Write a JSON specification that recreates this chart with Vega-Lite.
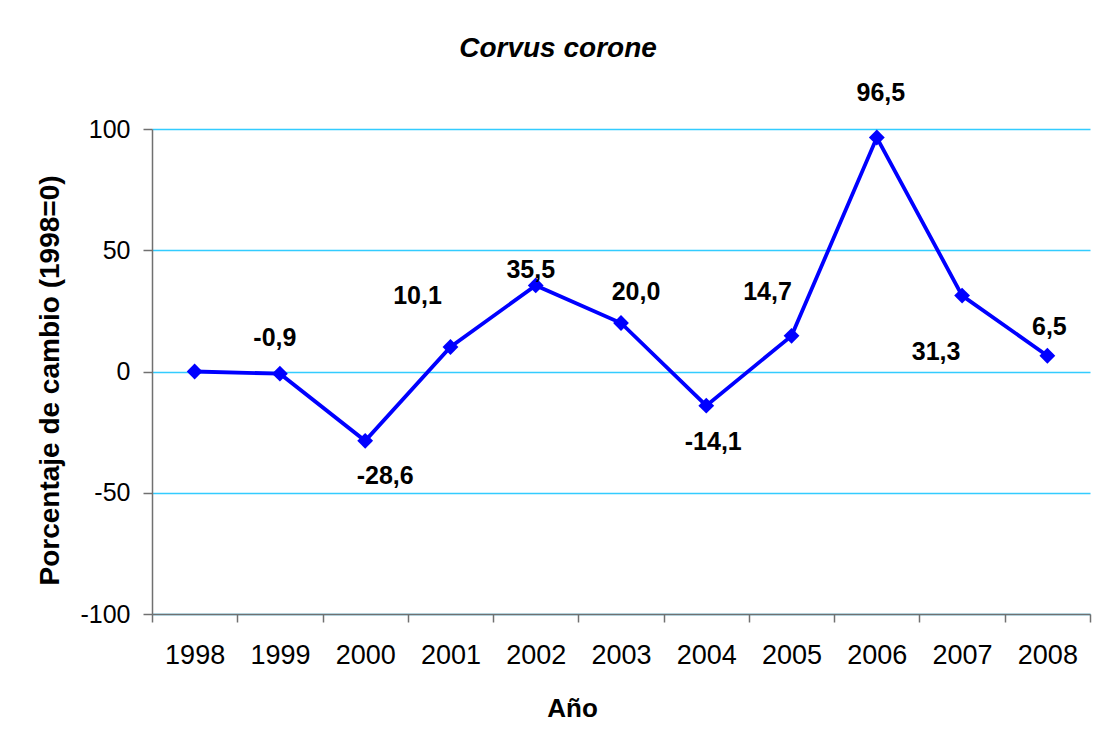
{
  "$schema": "https://vega.github.io/schema/vega-lite/v6.json",
  "width": 938,
  "height": 485,
  "autosize": "none",
  "padding": {"left": 152, "top": 129, "right": 14, "bottom": 130},
  "background": "white",
  "config": {
    "view": {"stroke": null},
    "font": "Liberation Sans",
    "locale": {"number": {"decimal": ",", "thousands": ".", "grouping": [3], "currency": ["", " €"], "minus": "-"}}
  },
  "title": {
    "text": "Corvus corone",
    "font": "Liberation Sans",
    "fontSize": 28,
    "fontWeight": "bold",
    "fontStyle": "italic",
    "color": "black",
    "anchor": "middle",
    "dx": -63,
    "offset": -4,
    "baseline": "alphabetic"
  },
  "data": {
    "values": [
      {"year": "1998", "change": 0.0},
      {"year": "1999", "change": -0.9},
      {"year": "2000", "change": -28.6},
      {"year": "2001", "change": 10.1},
      {"year": "2002", "change": 35.5},
      {"year": "2003", "change": 20.0},
      {"year": "2004", "change": -14.1},
      {"year": "2005", "change": 14.7},
      {"year": "2006", "change": 96.5},
      {"year": "2007", "change": 31.3},
      {"year": "2008", "change": 6.5}
    ]
  },
  "encoding": {
    "x": {
      "field": "year",
      "type": "ordinal",
      "scale": {"type": "band", "paddingInner": 0, "paddingOuter": 0},
      "axis": {
        "title": "Año",
        "labelAngle": 0,
        "labelFontSize": 27,
        "labelColor": "black",
        "labelPadding": 20,
        "tickBand": "extent",
        "tickSize": 8,
        "tickColor": "#707070",
        "tickWidth": 1.5,
        "domainColor": "#707070",
        "domainWidth": 1.5,
        "grid": false,
        "titleFontSize": 26,
        "titleFontWeight": "bold",
        "titleColor": "black",
        "titleX": 420,
        "titleY": 102,
        "titleBaseline": "alphabetic"
      }
    },
    "y": {
      "field": "change",
      "type": "quantitative",
      "scale": {"domain": [-100, 100], "nice": false},
      "axis": {
        "title": "Porcentaje de cambio (1998=0)",
        "values": [-100, -50, 0, 50, 100],
        "tickSize": 9,
        "tickColor": "#707070",
        "tickWidth": 1.5,
        "domainColor": "#707070",
        "domainWidth": 1.5,
        "labelPadding": 13,
        "labelFontSize": 25,
        "labelColor": "black",
        "grid": true,
        "gridColor": "#33CCFF",
        "gridWidth": 1.3,
        "titleFontSize": 28,
        "titleFontWeight": "bold",
        "titleColor": "black",
        "titlePadding": 15,
        "titleY": 251
      }
    }
  },
  "layer": [
    {"mark": {"type": "line", "color": "#0000FF", "strokeWidth": 3.8}},
    {"mark": {"type": "point", "shape": "diamond", "filled": true, "size": 250, "color": "#0000FF", "opacity": 1}},
    {
      "transform": [{"filter": "datum.year == '1999'"}],
      "mark": {"type": "text", "fontSize": 25, "fontWeight": "bold", "color": "black", "align": "center", "baseline": "middle", "dx": -5, "dy": -36},
      "encoding": {"text": {"field": "change", "type": "quantitative", "format": ".1f"}}
    },
    {
      "transform": [{"filter": "datum.year == '2000'"}],
      "mark": {"type": "text", "fontSize": 25, "fontWeight": "bold", "color": "black", "align": "center", "baseline": "middle", "dx": 20, "dy": 35},
      "encoding": {"text": {"field": "change", "type": "quantitative", "format": ".1f"}}
    },
    {
      "transform": [{"filter": "datum.year == '2001'"}],
      "mark": {"type": "text", "fontSize": 25, "fontWeight": "bold", "color": "black", "align": "center", "baseline": "middle", "dx": -33, "dy": -51},
      "encoding": {"text": {"field": "change", "type": "quantitative", "format": ".1f"}}
    },
    {
      "transform": [{"filter": "datum.year == '2002'"}],
      "mark": {"type": "text", "fontSize": 25, "fontWeight": "bold", "color": "black", "align": "center", "baseline": "middle", "dx": -5, "dy": -15},
      "encoding": {"text": {"field": "change", "type": "quantitative", "format": ".1f"}}
    },
    {
      "transform": [{"filter": "datum.year == '2003'"}],
      "mark": {"type": "text", "fontSize": 25, "fontWeight": "bold", "color": "black", "align": "center", "baseline": "middle", "dx": 15, "dy": -31},
      "encoding": {"text": {"field": "change", "type": "quantitative", "format": ".1f"}}
    },
    {
      "transform": [{"filter": "datum.year == '2004'"}],
      "mark": {"type": "text", "fontSize": 25, "fontWeight": "bold", "color": "black", "align": "center", "baseline": "middle", "dx": 7, "dy": 36},
      "encoding": {"text": {"field": "change", "type": "quantitative", "format": ".1f"}}
    },
    {
      "transform": [{"filter": "datum.year == '2005'"}],
      "mark": {"type": "text", "fontSize": 25, "fontWeight": "bold", "color": "black", "align": "center", "baseline": "middle", "dx": -24, "dy": -44},
      "encoding": {"text": {"field": "change", "type": "quantitative", "format": ".1f"}}
    },
    {
      "transform": [{"filter": "datum.year == '2006'"}],
      "mark": {"type": "text", "fontSize": 25, "fontWeight": "bold", "color": "black", "align": "center", "baseline": "middle", "dx": 4, "dy": -44},
      "encoding": {"text": {"field": "change", "type": "quantitative", "format": ".1f"}}
    },
    {
      "transform": [{"filter": "datum.year == '2007'"}],
      "mark": {"type": "text", "fontSize": 25, "fontWeight": "bold", "color": "black", "align": "center", "baseline": "middle", "dx": -26, "dy": 56},
      "encoding": {"text": {"field": "change", "type": "quantitative", "format": ".1f"}}
    },
    {
      "transform": [{"filter": "datum.year == '2008'"}],
      "mark": {"type": "text", "fontSize": 25, "fontWeight": "bold", "color": "black", "align": "center", "baseline": "middle", "dx": 2, "dy": -29},
      "encoding": {"text": {"field": "change", "type": "quantitative", "format": ".1f"}}
    }
  ]
}
